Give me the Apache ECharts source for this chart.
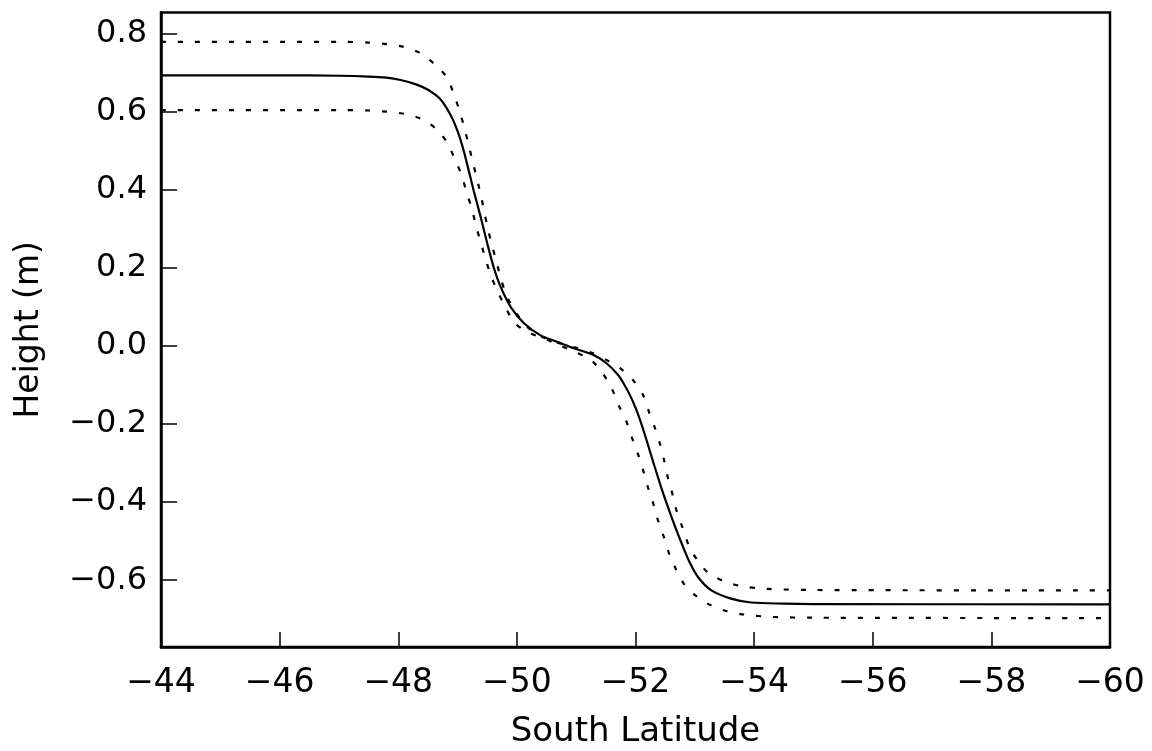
<!DOCTYPE html>
<html>
<head>
<meta charset="utf-8">
<script src="https://cdn.jsdelivr.net/npm/echarts@6/dist/echarts.min.js"></script>
<style>
html,body{margin:0;padding:0;background:#fff;}
#chart{width:1152px;height:751px;}
</style>
</head>
<body>
<div id="chart"></div>
<script>
// South latitude (deg) and height (m) for the central estimate
const solidLat = [-44, -46, -47, -47.5, -47.8, -48.04, -48.3, -48.5, -48.71, -48.88, -49.0, -49.1, -49.2, -49.27, -49.39, -49.5, -49.61, -49.73, -49.9, -50.12, -50.4, -50.69, -50.96, -51.3, -51.5, -51.7, -51.8, -51.9, -52.0, -52.1, -52.2, -52.3, -52.45, -52.6, -52.75, -52.9, -53.06, -53.28, -53.61, -53.95, -54.5, -55, -60];
const solidH   = [0.693, 0.693, 0.692, 0.690, 0.687, 0.681, 0.670, 0.656, 0.632, 0.592, 0.550, 0.502, 0.442, 0.399, 0.330, 0.263, 0.201, 0.150, 0.099, 0.058, 0.027, 0.010, -0.006, -0.024, -0.043, -0.073, -0.096, -0.124, -0.158, -0.200, -0.248, -0.298, -0.370, -0.435, -0.495, -0.550, -0.593, -0.626, -0.647, -0.657, -0.660, -0.661, -0.662];

// Upper bound (dotted)
const upperLat = [-44, -47, -47.5, -47.8, -48.09, -48.38, -48.63, -48.83, -48.93, -49.03, -49.11, -49.18, -49.25, -49.32, -49.39, -49.45, -49.51, -49.58, -49.66, -49.73, -49.84, -49.98, -50.18, -50.44, -50.71, -50.96, -51.25, -51.5, -51.75, -51.96, -52.13, -52.23, -52.33, -52.42, -52.49, -52.55, -52.63, -52.7, -52.8, -52.9, -53.05, -53.24, -53.5, -53.78, -54.2, -55, -60];
const upperH   = [0.779, 0.779, 0.777, 0.773, 0.766, 0.749, 0.719, 0.686, 0.647, 0.604, 0.561, 0.519, 0.475, 0.432, 0.388, 0.344, 0.301, 0.258, 0.214, 0.172, 0.125, 0.086, 0.048, 0.022, 0.007, -0.003, -0.017, -0.035, -0.058, -0.088, -0.126, -0.170, -0.211, -0.255, -0.298, -0.340, -0.383, -0.426, -0.468, -0.511, -0.550, -0.583, -0.603, -0.615, -0.622, -0.625, -0.626];

// Lower bound (dotted)
const lowerLat = [-44, -47, -47.5, -47.8, -48.12, -48.41, -48.66, -48.83, -48.95, -49.07, -49.15, -49.24, -49.31, -49.39, -49.47, -49.56, -49.68, -49.81, -49.95, -50.18, -50.45, -50.71, -50.99, -51.25, -51.45, -51.6, -51.72, -51.84, -51.94, -52.04, -52.13, -52.21, -52.3, -52.38, -52.48, -52.57, -52.68, -52.82, -53.02, -53.28, -53.56, -53.84, -54.3, -55, -60];
const lowerH   = [0.604, 0.604, 0.603, 0.600, 0.594, 0.580, 0.553, 0.519, 0.480, 0.437, 0.394, 0.352, 0.308, 0.266, 0.224, 0.181, 0.138, 0.099, 0.061, 0.035, 0.020, 0.002, -0.016, -0.036, -0.071, -0.109, -0.153, -0.191, -0.235, -0.276, -0.319, -0.362, -0.404, -0.447, -0.490, -0.533, -0.571, -0.610, -0.640, -0.665, -0.680, -0.688, -0.694, -0.696, -0.697];

const yTicks = [-0.6, -0.4, -0.2, 0.0, 0.2, 0.4, 0.6, 0.8];
const xLabel = 'South Latitude';
const yLabel = 'Height (m)';

const pair = (a, b) => a.map((v, i) => [v, b[i]]);
const minus = s => String(s).replace('-', '\u2212');
const FONT = 'DejaVu Sans';

const chart = echarts.init(document.getElementById('chart'), null, {renderer: 'canvas'});
chart.setOption({
  backgroundColor: '#ffffff',
  animation: false,
  grid: {
    left: 161, right: 42, top: 12.5, bottom: 104,
    show: true, borderColor: '#000', borderWidth: 2.5,
    outerBoundsMode: 'none', containLabel: false
  },
  xAxis: {
    type: 'value', min: -60, max: -44, interval: 2, inverse: true,
    name: xLabel, nameLocation: 'middle', nameGap: 68,
    nameTextStyle: {fontFamily: FONT, fontSize: 34, color: '#000'},
    axisLine: {show: true, onZero: false, lineStyle: {color: '#000', width: 2.5}},
    axisTick: {show: true, inside: true, length: 15, lineStyle: {color: '#000', width: 1.5}},
    axisLabel: {margin: 20, fontFamily: FONT, fontSize: 33, color: '#000',
      formatter: v => minus(v)},
    splitLine: {show: false}
  },
  yAxis: {
    type: 'value', min: -0.771, max: 0.854,
    name: yLabel, nameLocation: 'middle', nameGap: 115,
    nameTextStyle: {fontFamily: FONT, fontSize: 33, color: '#000'},
    axisLine: {show: true, onZero: false, lineStyle: {color: '#000', width: 2.5}},
    axisTick: {show: true, inside: true, length: 16, customValues: yTicks, lineStyle: {color: '#000', width: 1.5}},
    axisLabel: {margin: 14, fontFamily: FONT, fontSize: 32, color: '#000', customValues: yTicks,
      formatter: v => minus(Number(v).toFixed(1))},
    splitLine: {show: false}
  },
  series: [
    {type: 'line', data: pair(solidLat, solidH), showSymbol: false, smooth: 0.3,
      lineStyle: {color: '#000', width: 2.2, type: 'solid'}, z: 3},
    {type: 'line', data: pair(upperLat, upperH), showSymbol: false, smooth: 0.3,
      lineStyle: {color: '#000', width: 2.2, type: [5, 12]}, z: 2},
    {type: 'line', data: pair(lowerLat, lowerH), showSymbol: false, smooth: 0.3,
      lineStyle: {color: '#000', width: 2.2, type: [5, 12]}, z: 2}
  ]
});
</script>
</body>
</html>
